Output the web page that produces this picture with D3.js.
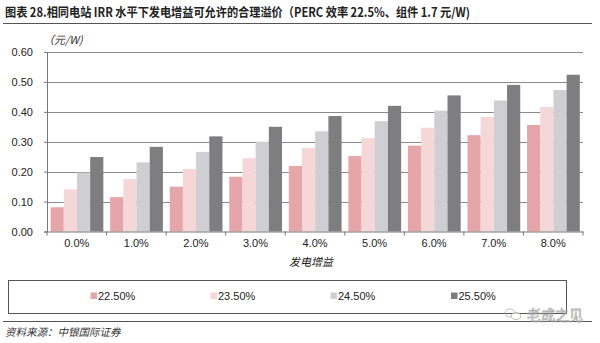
<!DOCTYPE html>
<html><head><meta charset="utf-8">
<script src="https://cdn.jsdelivr.net/npm/d3@7"></script>
<style>
html,body{margin:0;padding:0;background:#fff;}
svg{display:block;}
text{font-family:"Liberation Sans",Arial,sans-serif;}
.cjk{font-family:"Noto Sans CJK SC","Noto Sans",sans-serif;}
</style></head>
<body><svg id="c" width="600" height="343"></svg>
<script>
const categories = ["0.0%","1.0%","2.0%","3.0%","4.0%","5.0%","6.0%","7.0%","8.0%"];
const seriesNames = ["22.50%","23.50%","24.50%","25.50%"];
const s225 = [0.081,0.115,0.150,0.183,0.219,0.252,0.287,0.322,0.356];
const s235 = [0.141,0.175,0.209,0.245,0.279,0.312,0.347,0.383,0.416];
const s245 = [0.197,0.231,0.266,0.300,0.335,0.369,0.404,0.438,0.473];
const s255 = [0.249,0.283,0.318,0.350,0.386,0.420,0.455,0.490,0.524];
const yTicks = [0,0.1,0.2,0.3,0.4,0.5,0.6];
const colors = ["#e6a5a9","#f6d7d7","#cfced2","#7e7d80"];
const seriesValues = [s225,s235,s245,s255];

const svg = d3.select("#c");
const L=47, R=583, T=52, B=231.5;

// title
svg.append("text").attr("class","cjk").attr("x",5).attr("y",16.5)
  .attr("font-size",12.5).attr("font-weight","bold").attr("fill","#222")
  .attr("textLength",465).attr("lengthAdjust","spacingAndGlyphs")
  .text("图表 28.相同电站 IRR 水平下发电增益可允许的合理溢价（PERC 效率 22.5%、组件 1.7 元/W)");
svg.append("line").attr("x1",3).attr("x2",592).attr("y1",23.5).attr("y2",23.5)
  .attr("stroke","#555").attr("stroke-width",1.2);

const x0 = d3.scaleBand().domain(categories).range([L,R]).padding(0);
const x1 = d3.scaleBand().domain(seriesNames).range([3.6, x0.bandwidth()-3.2]).padding(0);
const y = d3.scaleLinear().domain([0,0.6]).range([B,T]);

// gridlines
svg.append("g").selectAll("line").data(yTicks.slice(1)).join("line")
  .attr("x1",L).attr("x2",R).attr("y1",d=>Math.round(y(d))+0.5).attr("y2",d=>Math.round(y(d))+0.5)
  .attr("stroke","#8a8a8a").attr("stroke-width",1);

// bars
const g = svg.append("g");
seriesValues.forEach((vals,si)=>{
  g.append("g").selectAll("rect").data(vals).join("rect")
    .attr("x",(d,i)=>x0(categories[i])+x1(seriesNames[si]))
    .attr("width",x1.bandwidth())
    .attr("y",d=>y(d)).attr("height",d=>B-y(d))
    .attr("fill",colors[si]);
});

// y axis
const ya = svg.append("g").attr("transform",`translate(${L},0)`)
  .call(d3.axisLeft(y).tickValues(yTicks).tickFormat(d3.format(".2f")).tickSize(3).tickPadding(11));
ya.select(".domain").attr("stroke","#777");
ya.selectAll(".tick line").attr("stroke","#777");
ya.selectAll("text").attr("font-size",11).attr("fill","#222");

// x axis
const xa = svg.append("g").attr("transform",`translate(0,${B})`)
  .call(d3.axisBottom(x0).tickSize(0).tickPadding(8));
xa.select(".domain").attr("stroke","#777");
xa.selectAll("text").attr("font-size",11).attr("fill","#222");
svg.append("g").selectAll("line").data(d3.range(categories.length+1)).join("line")
  .attr("x1",i=>L+i*x0.step()).attr("x2",i=>L+i*x0.step())
  .attr("y1",B).attr("y2",B+4).attr("stroke","#777");

// unit label
svg.append("text").attr("class","cjk").attr("x",43).attr("y",44).attr("font-size",11)
  .attr("fill","#333").attr("font-style","italic").text("（元/W)");

// axis title
svg.append("text").attr("class","cjk").attr("x",311).attr("y",266).attr("text-anchor","middle")
  .attr("font-size",11).attr("fill","#222").attr("font-style","italic").text("发电增益");

// legend
svg.append("rect").attr("x",8.5).attr("y",280.5).attr("width",558).attr("height",33)
  .attr("fill","none").attr("stroke","#555").attr("stroke-width",1);
const lx = [90.5,210.5,330.5,451];
const lg = svg.append("g").selectAll("g").data(seriesNames).join("g")
  .attr("transform",(d,i)=>`translate(${lx[i]},296)`);
lg.append("rect").attr("x",0).attr("y",-3.5).attr("width",6.5).attr("height",6.5).attr("fill",(d,i)=>colors[i]);
lg.append("text").attr("x",7.5).attr("y",4).attr("font-size",11).attr("fill","#222").text(d=>d);

// bottom line & source
svg.append("line").attr("x1",3).attr("x2",592).attr("y1",321.5).attr("y2",321.5)
  .attr("stroke","#555").attr("stroke-width",1);
svg.append("text").attr("class","cjk").attr("x",5).attr("y",336).attr("font-size",10.5)
  .attr("font-style","italic").attr("fill","#333").text("资料来源：中银国际证券");

// watermark
const wm = svg.append("g").attr("opacity",0.75);
wm.append("ellipse").attr("cx",510).attr("cy",313).attr("rx",5).attr("ry",4).attr("fill","none").attr("stroke","#aaa");
wm.append("ellipse").attr("cx",516).attr("cy",316).attr("rx",4.5).attr("ry",3.5).attr("fill","#fff").attr("stroke","#aaa");
wm.append("text").attr("class","cjk").attr("x",527).attr("y",320).attr("font-size",14)
  .attr("fill","#fff").attr("stroke","#999").attr("stroke-width",0.8).text("老成之见");
</script></body></html>
